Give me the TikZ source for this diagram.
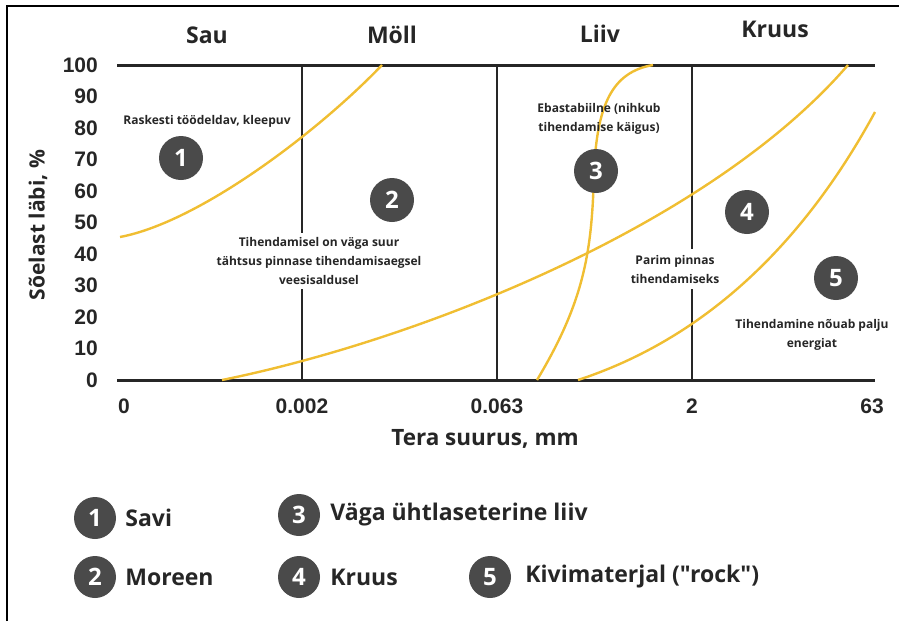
\documentclass[tikz,border=0pt]{standalone}
\usepackage{fontspec}
\setmainfont{Open Sans}[Ligatures=TeXOff]
\newfontfamily\axisfont{Liberation Sans}
\usetikzlibrary{positioning}
\definecolor{badgegray}{HTML}{4A4A4A}
\definecolor{curvegold}{HTML}{F0BE32}
\definecolor{inkgray}{HTML}{262626}

\begin{document}
\begin{tikzpicture}[x=1pt,y=-1pt,
    badge/.style={circle,fill=badgegray,minimum size=44pt,inner sep=0pt,text=white,font=\fontsize{24}{24}\selectfont\bfseries},
    legbadge/.style={badge,minimum size=42pt},
    curve/.style={curvegold,line width=2.4pt},
    divider/.style={inkgray,line width=1.1pt},
    axisline/.style={inkgray,line width=3pt},
    note/.style={align=center,text=inkgray,inner sep=1pt,font=\fontsize{12}{19}\selectfont\bfseries},
    header/.style={anchor=base,text=inkgray,font=\fontsize{23}{23}\selectfont\bfseries},
    tick/.style={text=inkgray,font=\axisfont\fontsize{21}{21}\selectfont\bfseries},
    legtext/.style={anchor=west,inner sep=0pt,text=inkgray,font=\fontsize{23}{23}\selectfont\bfseries}]
    \useasboundingbox (0,0) rectangle (899,621);
    \draw[line width=2pt] (7,621) |- (899,6);
    % plot frame
    \coordinate (tl) at (117,65);
    \coordinate (tr) at (875,65);
    \coordinate (bl) at (117,380);
    \coordinate (br) at (875,380);
    \foreach \xx/\nm in {302/a,497/b,692/c}
        \draw[divider] (\xx,65) coordinate (\nm top) -- (\xx,380) coordinate (\nm bot);
    \draw[axisline] (tl) -- (tr);
    \draw[axisline] (bl) -- (br);
    % curves
    \draw[curve] (120,237) .. controls (200,222) and (320,130) .. (382,65);
    \draw[curve] (222,380) .. controls (420,340) and (710,225) .. (848,65);
    \draw[curve] (537,380) .. controls (585,300) and (592,250) .. (594,172) .. controls (597,105) and (612,72) .. (653,65);
    \draw[curve] (578,380) .. controls (700,340) and (800,250) .. (875,112);
    % headers
    \node[header] (sau) at (207,43) {Sau};
    \node[header] (moll) at (392,43) {Möll};
    \node[header] (liiv) at (600,42) {Liiv};
    \node[header] (kruus) at (775,37) {Kruus};
    % ticks
    \foreach \v in {0,10,...,100}
        \node[tick,anchor=east,inner sep=0pt] (y\v) at (98,380-3.15*\v) {\v};
    \foreach \lab/\xx [count=\i] in {0/124,0.002/302,0.063/497,2/692,63/872}
        \node[tick] (x\i) at (\xx,406) {\lab};
    \node[rotate=90,text=inkgray,font=\fontsize{21}{21}\selectfont\bfseries] (ylabel) at (38,225) {Sõelast läbi, \%};
    \node[text=inkgray,font=\fontsize{22.5}{22.5}\selectfont\bfseries] (xlabel) at (485,439) {Tera suurus, mm};
    % notes
    \node[note] (n1) at (207,121) {Raskesti töödeldav, kleepuv};
    \node[note,fill=white,inner ysep=4pt] (n2) at (319,261) {Tihendamisel on väga suur\\tähtsus pinnase tihendamisaegsel\\veesisaldusel};
    \node[note] (n3) at (599,119) {Ebastabiilne (nihkub\\tihendamise käigus)};
    \node[note,fill=white,inner ysep=6pt] (n4) at (675,269) {Parim pinnas\\tihendamiseks};
    \node[note] (n5) at (812,335) {Tihendamine nõuab palju\\energiat};
    % badges
    \node[badge] (b1) at (181,158) {1};
    \node[badge] (b2) at (392,200) {2};
    \node[badge] (b3) at (596,171) {3};
    \node[badge] (b4) at (747,212) {4};
    \node[badge] (b5) at (836,278) {5};
    % legend
    \node[legbadge] (l1) at (95,518) {1};
    \node[legtext,right=9pt of l1] (t1) {Savi};
    \node[legbadge] (l2) at (95,577) {2};
    \node[legtext,right=9pt of l2] (t2) {Moreen};
    \node[legbadge] (l3) at (299,515) {3};
    \node[legtext,right=10pt of l3] (t3) {Väga ühtlaseterine liiv};
    \node[legbadge] (l4) at (299,577) {4};
    \node[legtext,right=10pt of l4] (t4) {Kruus};
    \node[legbadge] (l5) at (490,577) {5};
    \node[legtext,right=14pt of l5] (t5) {Kivimaterjal ("rock")};
\end{tikzpicture}
\end{document}
